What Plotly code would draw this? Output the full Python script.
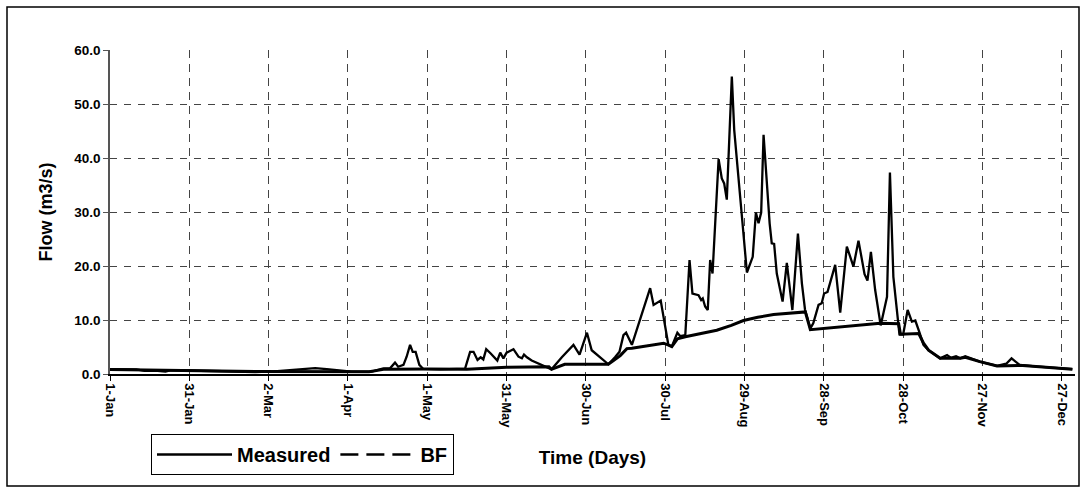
import plotly.graph_objects as go

# ---- data (day of year offset from 1-Jan, flow m3/s) ----
measured_day = [0, 5, 10, 13, 18, 21, 23, 30, 35, 41, 48, 55, 62, 68.7, 74, 77.6, 82, 86.4, 91.4, 99,
                103.4, 106, 107.8, 109, 111, 112.2, 113.5, 114.5, 115.6, 117, 118.5, 125, 134.3,
                136.2, 137.5, 139, 140.2, 141.2, 142.3, 144, 146.5, 147.6, 148.8, 150, 152.6, 154.5,
                155.8, 156.6, 157.7, 159.5, 162.7, 167, 170.9, 175.3, 177.6, 180.4, 182.2, 185.4,
                188.5, 191, 192.7, 194.2, 195.2, 197.4, 204.3, 205.6, 208.3, 211.2, 212.5, 214.6,
                215.7, 217.6, 219.2, 220.3, 222.6, 223.6, 224.2, 225.1, 226.1, 227, 227.9, 230.2,
                231.4, 232.3, 233.3, 235.2, 236.1, 240.9, 243.1, 244.3, 245.3, 246.3, 247.2, 249.5,
                250.3, 251.2, 252.2, 254.4, 256, 258.1, 260.2, 261.7, 262.9, 264.9, 266, 268, 269.2,
                270.1, 271.4, 274.3, 276.2, 278.7, 281.2, 283.1, 285.4, 286.5, 287.8, 289.4, 291.5,
                293.9, 295, 296.3, 298.6, 300, 301.7, 303.3, 304.6, 306.2, 307.7, 309.6, 312.1, 314,
                316.6, 318, 320, 321.6, 323.5, 326, 329, 335.5, 339, 341, 344, 350, 355.7, 360, 364]
measured_flow = [0.9, 0.9, 0.87, 0.6, 0.6, 0.43, 0.7, 0.65, 0.6, 0.6, 0.45, 0.37, 0.5, 0.74, 0.95, 1.1, 0.9, 0.74, 0.43, 0.43,
                 1.05, 1.1, 2.1, 1.35, 1.7, 3.2, 5.4, 4.1, 4.1, 1.7, 0.93, 0.85, 1.0,
                 4.1, 4.1, 2.6, 3.1, 2.7, 4.6, 3.8, 2.5, 3.95, 2.9, 3.95, 4.6, 3.2,
                 2.9, 3.6, 3.1, 2.5, 1.8, 0.86, 3.1, 5.4, 3.6, 7.65, 4.4, 3.0,
                 1.8, 3.1, 4.1, 7.2, 7.65, 5.4, 15.9, 12.8, 13.6, 5.4, 5.1, 7.65,
                 7.0, 7.2, 21.1, 14.9, 14.6, 13.7, 14.0, 12.5, 11.85, 21.1, 18.6, 39.8,
                 36.2, 35.3, 32.3, 55.1, 45.2, 18.8, 21.7, 29.9, 27.9, 29.9, 44.3, 27.9,
                 24.2, 24.1, 18.6, 13.4, 20.6, 11.85, 26.0, 16.8, 11.85, 8.45, 9.4, 12.8, 13.1,
                 14.9, 15.2, 20.2, 11.35, 23.6, 19.9, 24.7, 18.5, 17.3, 22.6, 15.6, 9.0,
                 14.3, 37.3, 18.0, 7.35, 7.3, 11.85, 9.7, 9.9, 7.65, 5.4, 4.4, 3.5, 2.9,
                 3.5, 3.0, 3.3, 2.9, 3.3, 2.8, 2.3, 1.5, 1.9, 2.9, 1.7, 1.4, 1.24, 1.1, 0.9]

bf_day = [0, 30, 55, 98, 104, 120, 135, 150, 166, 167, 172, 186.5, 188.5, 193, 195.5, 197.4, 209.4,
          211.5, 212.5, 214.6, 217.6, 229.5, 235, 239.6, 245, 251, 261, 263, 264.9, 291.3, 298.3,
          299, 305.9, 307.7, 309.6, 312.1, 314, 321.6, 323.5, 329, 335.5, 344, 355.7, 364]
bf_flow = [0.85, 0.7, 0.45, 0.43, 0.9, 0.93, 0.9, 1.24, 1.35, 0.86, 1.8, 1.8, 1.8, 3.4, 4.7, 4.75, 5.7,
           5.3, 5.06, 6.5, 6.9, 8.1, 9.0, 9.9, 10.5, 11.0, 11.4, 11.5, 8.2, 9.4, 9.3,
           7.35, 7.5, 5.7, 4.4, 3.5, 2.9, 2.9, 3.1, 2.3, 1.5, 1.6, 1.24, 0.9]

tick_days = [0, 30, 60, 90, 120, 150, 180, 210, 240, 270, 300, 330, 360]
tick_labels = ["1-Jan", "31-Jan", "2-Mar", "1-Apr", "1-May", "31-May", "30-Jun",
               "30-Jul", "29-Aug", "28-Sep", "28-Oct", "27-Nov", "27-Dec"]
y_ticks = [0, 10, 20, 30, 40, 50, 60]

FONT = "Liberation Sans, Arial, sans-serif"

fig = go.Figure()
fig.add_trace(go.Scatter(x=bf_day, y=bf_flow, mode="lines", name="BF",
                         line=dict(color="black", width=3), showlegend=False))
fig.add_trace(go.Scatter(x=measured_day, y=measured_flow, mode="lines", name="Measured",
                         line=dict(color="black", width=2.3)))
fig.add_trace(go.Scatter(x=[None], y=[None], mode="lines", name="BF",
                         line=dict(color="black", width=2.5, dash="18px,8px")))

W, H = 1086, 493
L, R, T, B = 110, 11, 50, 119
pw, ph = W - L - R, H - T - B

def px_x(p):
    return (p - L) / pw

def px_y(p):
    return (H - B - p) / ph

fig.update_layout(
    width=W, height=H,
    margin=dict(l=L, r=R, t=T, b=B),
    paper_bgcolor="white", plot_bgcolor="white",
    font=dict(family=FONT, color="black", size=12),
    showlegend=True,
    legend=dict(orientation="h", x=px_x(151), y=px_y(434), xanchor="left", yanchor="top",
                bordercolor="black", borderwidth=1, bgcolor="white",
                font=dict(family=FONT, size=20, weight="bold", color="black"),
                itemwidth=75),
    shapes=[dict(type="rect", xref="paper", yref="paper",
                 x0=px_x(7), x1=px_x(1079), y0=px_y(486), y1=px_y(7),
                 line=dict(color="black", width=1.5), fillcolor="rgba(0,0,0,0)", layer="below")],
)

fig.update_xaxes(range=[0, 365], tickvals=tick_days, ticktext=tick_labels, tickangle=90,
                 showgrid=True, gridcolor="#444444", griddash="8px,6px", gridwidth=1,
                 showline=True, linecolor="black", linewidth=1.5,
                 ticks="outside", ticklen=5, tickcolor="black",
                 tickfont=dict(family=FONT, size=13, weight="bold"),
                 zeroline=False,
                 title=dict(text="Time (Days)", standoff=24,
                            font=dict(family=FONT, size=19, weight="bold")))
fig.update_yaxes(range=[0, 60], tickvals=y_ticks, tickformat=".1f",
                 showgrid=True, gridcolor="#444444", griddash="7px,7px", gridwidth=1,
                 showline=True, linecolor="#555555", linewidth=1.5,
                 ticks="outside", ticklen=5, tickcolor="#555555",
                 tickfont=dict(family=FONT, size=13.5, weight="bold"),
                 zeroline=False,
                 title=dict(text="Flow (m3/s)", standoff=17,
                            font=dict(family=FONT, size=18, weight="bold")))

fig.write_html("out.html")
